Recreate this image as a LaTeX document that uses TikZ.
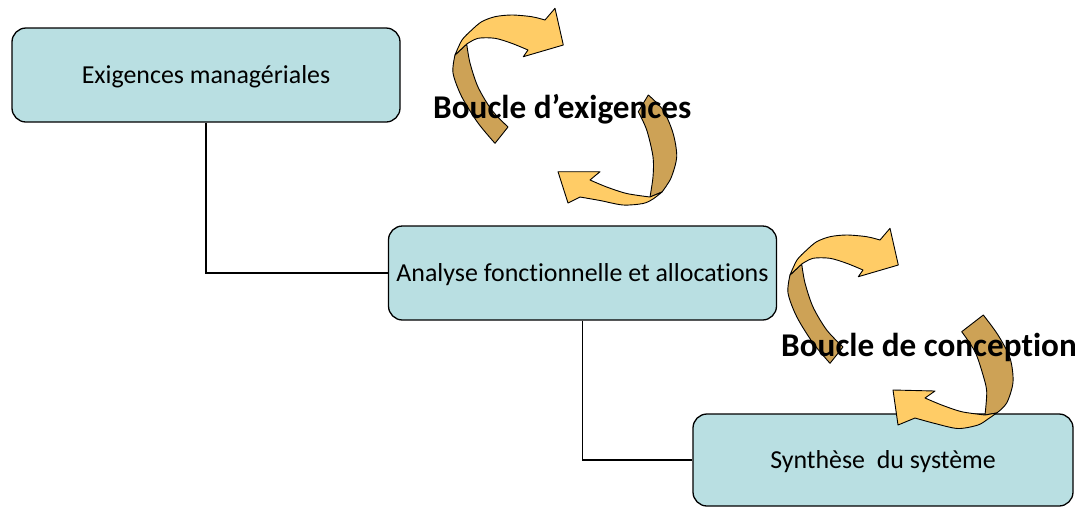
\documentclass[tikz,border=0pt]{standalone}
\usepackage{fontspec}
\setmainfont{Carlito}[Ligatures=NoCommon]
\definecolor{boxfill}{RGB}{185,223,226}
\definecolor{arrlight}{RGB}{255,204,102}
\definecolor{arrdark}{RGB}{205,162,86}
\tikzset{
  procbox/.style={draw=black, line width=1.3pt, fill=boxfill, rounded corners=14pt,
    minimum width=388pt, minimum height=94pt, inner sep=0pt,
    text height=16.6pt, text depth=0pt, font=\fontsize{25.9}{30}\selectfont},
  link/.style={draw=black, line width=1.2pt},
  rdark/.style={draw=black, line width=0.9pt, fill=arrdark, line join=round},
  rlight/.style={draw=black, line width=0.9pt, fill=arrlight, line join=round},
  looplabel/.style={font=\fontsize{33.2}{38}\selectfont\bfseries, inner sep=0pt, anchor=base west},
  toparrow/.pic={
    \path[rdark] plot[smooth] coordinates {(495,143.3) (478,123) (461.7,96.7) (453,73) (455,55)} -- (466.7,44)
      -- plot[smooth] coordinates {(466.7,44) (470,63) (478,87) (491.7,110) (508,127)} -- cycle;
    \path[rlight] plot[smooth] coordinates {(455,55) (462,40) (471.7,30) (481.7,21.7) (495,16.7) (511.7,15) (531.7,16.7) (545,20)}
      -- (555,8.3) -- (563.3,45) -- (523.3,56.7) -- (528,50)
      -- plot[smooth] coordinates {(528,50) (511.7,43.3) (495,38.3) (478,38.3) (466.7,44)} -- cycle;
  }
}
\begin{document}
\begin{tikzpicture}[x=1pt,y=-1pt]
\useasboundingbox (0,0) rectangle (1075,507);
% boxes
\node[procbox] (b1) at (206,75) {Exigences managériales};
\node[procbox] (b2) at (582.5,273) {Analyse fonctionnelle et allocations};
\node[procbox, minimum width=380pt, minimum height=92pt] (b3) at (883,460) {Synthèse\ \ du système};
% connectors
\draw[link] (b1.south) |- (b2.west);
\draw[link] (b2.south) |- (b3.west);
% loop 1, upper arrow
\pic {toparrow};
% loop 1, lower arrow
\path[rdark] plot[smooth] coordinates {(638.3,111.7) (646.7,130) (653,156.7) (653,176.7) (650,197)} -- (662,192)
  -- plot[smooth] coordinates {(662,192) (671,178) (676.7,156.7) (673,133) (663,110) (648.3,95)} -- cycle;
\path[rlight] plot[smooth] coordinates {(662,192) (653,199) (643,203.5) (623,205) (600,200.5) (580,197)}
  -- (568,203) -- (558,171.7) -- (600,171.7) -- (590,180)
  -- plot[smooth] coordinates {(590,180) (606.7,187) (626.7,193.5) (650,197)} -- cycle;
% loop 2, upper arrow
\begin{scope}[shift={(335,220)}]
\pic {toparrow};
\end{scope}
% loop 2, lower arrow
\path[rdark] plot[smooth] coordinates {(961.7,331.7) (975,351.7) (983,375) (986.7,391.7) (985,415)} -- (996.7,413)
  -- plot[smooth] coordinates {(996.7,413) (1006.7,403) (1013,382) (1010,358) (998,335) (983.3,315)} -- cycle;
\path[rlight] plot[smooth] coordinates {(996.7,413) (988,419) (978,425) (958,428.5) (935,423.5) (915,418)}
  -- (898,425) -- (893,390) -- (935,391) -- (925,398)
  -- plot[smooth] coordinates {(925,398) (941.7,405) (961.7,411.7) (985,415)} -- cycle;
% labels
\node[looplabel] (l1) at (433,118.5) {Boucle d’exigences};
\node[looplabel] (l2) at (781,356) {Boucle de conception};
\end{tikzpicture}
\end{document}
